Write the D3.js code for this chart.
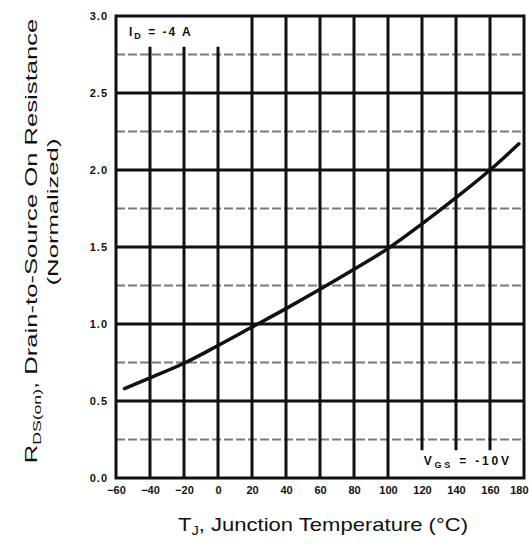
<!DOCTYPE html>
<html>
<head>
<meta charset="utf-8">
<script src="https://cdn.jsdelivr.net/npm/d3@7"></script>
<style>
  html, body { margin: 0; padding: 0; background: #fff; }
  svg { display: block; }
  text { font-family: "Liberation Sans", Arial, sans-serif; fill: #111; }
</style>
</head>
<body>
<svg id="chart" width="529" height="547"></svg>
<script>
// Normalized drain-to-source on-resistance vs junction temperature
const temperatures = [-55, -40, -20, 0, 20, 40, 60, 80, 100, 120, 140, 160, 177];
const rdsNormalized = [0.58, 0.65, 0.745, 0.86, 0.98, 1.10, 1.225, 1.355, 1.49, 1.65, 1.82, 2.00, 2.17];
const xTicks = [-60, -40, -20, 0, 20, 40, 60, 80, 100, 120, 140, 160, 180];
const yTicks = [0.0, 0.5, 1.0, 1.5, 2.0, 2.5, 3.0];
const yMinorTicks = [0.25, 0.75, 1.25, 1.75, 2.25, 2.75];

const svg = d3.select("#chart");
const plotLeft = 116, plotRight = 524, plotTop = 16, plotBottom = 478;

const x = d3.scaleLinear().domain([-60, 180]).range([plotLeft, plotRight]);
const y = d3.scaleLinear().domain([0, 3]).range([plotBottom, plotTop]);

// Minor horizontal grid (dashed, grey)
svg.append("g").selectAll("line").data(yMinorTicks).join("line")
  .attr("x1", plotLeft).attr("x2", plotRight)
  .attr("y1", d => y(d)).attr("y2", d => y(d))
  .attr("stroke", "#7a7a7a").attr("stroke-width", 2)
  .attr("stroke-dasharray", "9,3");

// Major horizontal grid
svg.append("g").selectAll("line").data(yTicks.slice(1, -1)).join("line")
  .attr("x1", plotLeft).attr("x2", plotRight)
  .attr("y1", d => y(d)).attr("y2", d => y(d))
  .attr("stroke", "#111").attr("stroke-width", 3);

// Vertical grid; a few lines leave room for the condition labels
svg.append("g").selectAll("line").data(xTicks.slice(1, -1)).join("line")
  .attr("x1", d => x(d)).attr("x2", d => x(d))
  .attr("y1", d => (d >= -40 && d <= 0) ? y(2.80) : plotTop)
  .attr("y2", d => (d >= 120 && d <= 160) ? y(0.18) : plotBottom)
  .attr("stroke", "#111").attr("stroke-width", 3);

// Frame
svg.append("rect")
  .attr("x", plotLeft).attr("y", plotTop)
  .attr("width", plotRight - plotLeft).attr("height", plotBottom - plotTop)
  .attr("fill", "none").attr("stroke", "#111").attr("stroke-width", 3);

// Curve
const line = d3.line()
  .x((d, i) => x(temperatures[i]))
  .y(d => y(d))
  .curve(d3.curveMonotoneX);
svg.append("path")
  .datum(rdsNormalized)
  .attr("d", line)
  .attr("fill", "none").attr("stroke", "#111").attr("stroke-width", 3.5)
  .attr("stroke-linecap", "round");

// Axes (labels only)
const yAxis = d3.axisLeft(y).tickValues(yTicks).tickSize(0).tickPadding(8)
  .tickFormat(d3.format(".1f"));
svg.append("g").attr("transform", `translate(${plotLeft},0)`).call(yAxis)
  .call(g => g.select(".domain").remove())
  .selectAll("text").attr("font-size", 11).attr("font-weight", "bold")
  .attr("letter-spacing", 1)
  .attr("font-family", "Liberation Sans, Arial, sans-serif");

const xAxis = d3.axisBottom(x).tickValues(xTicks).tickSize(0).tickPadding(8)
  .tickFormat(d3.format("d"));
svg.append("g").attr("transform", `translate(0,${plotBottom})`).call(xAxis)
  .call(g => g.select(".domain").remove())
  .call(g => g.selectAll(".tick").filter(d => d === 180).select("text")
    .attr("text-anchor", "end").attr("dx", 528 - x(180)))
  .selectAll("text").attr("font-size", 11).attr("font-weight", "bold")
  .attr("font-family", "Liberation Sans, Arial, sans-serif");

// Stretch a title horizontally (in its own frame) to a given length
function fitWidth(sel, target) {
  const w = sel.node().getBBox().width;
  return target / w;
}

// Y title, first line
const yTitle = svg.append("text").attr("text-anchor", "middle").attr("font-size", 16);
yTitle.append("tspan").text("R");
yTitle.append("tspan").attr("font-size", 11).attr("dy", 4).text("DS(on)");
yTitle.append("tspan").attr("dy", -4).text(", Drain-to-Source On Resistance");
const sy1 = fitWidth(yTitle, 445);
yTitle.attr("transform", `translate(37,241) rotate(-90) scale(${sy1},1)`);

// Y title, second line
const yTitle2 = svg.append("text").attr("text-anchor", "middle").attr("font-size", 15)
  .text("(Normalized)");
const sy2 = fitWidth(yTitle2, 147);
yTitle2.attr("transform", `translate(58,212) rotate(-90) scale(${sy2},1)`);

// X title
const xTitle = svg.append("text").attr("text-anchor", "middle").attr("font-size", 18);
xTitle.append("tspan").text("T");
xTitle.append("tspan").attr("font-size", 12).attr("dy", 4).text("J");
xTitle.append("tspan").attr("dy", -4).text(", Junction Temperature (°C)");
const sx = fitWidth(xTitle, 290);
xTitle.attr("transform", `translate(323,531) scale(${sx},1)`);

// Test conditions
const idLabel = svg.append("text")
  .attr("x", plotLeft + 13).attr("y", y(2.87))
  .attr("font-size", 12).attr("font-weight", "bold").attr("letter-spacing", 2);
idLabel.append("tspan").text("I");
idLabel.append("tspan").attr("font-size", 9).attr("dy", 3).text("D");
idLabel.append("tspan").attr("dy", -3).text(" = -4 A");

const vgsLabel = svg.append("text")
  .attr("x", x(121)).attr("y", y(0.085))
  .attr("font-size", 12).attr("font-weight", "bold").attr("letter-spacing", 2.8);
vgsLabel.append("tspan").text("V");
vgsLabel.append("tspan").attr("font-size", 9).attr("dy", 3).text("GS");
vgsLabel.append("tspan").attr("dy", -3).text(" = -10V");
</script>
</body>
</html>
